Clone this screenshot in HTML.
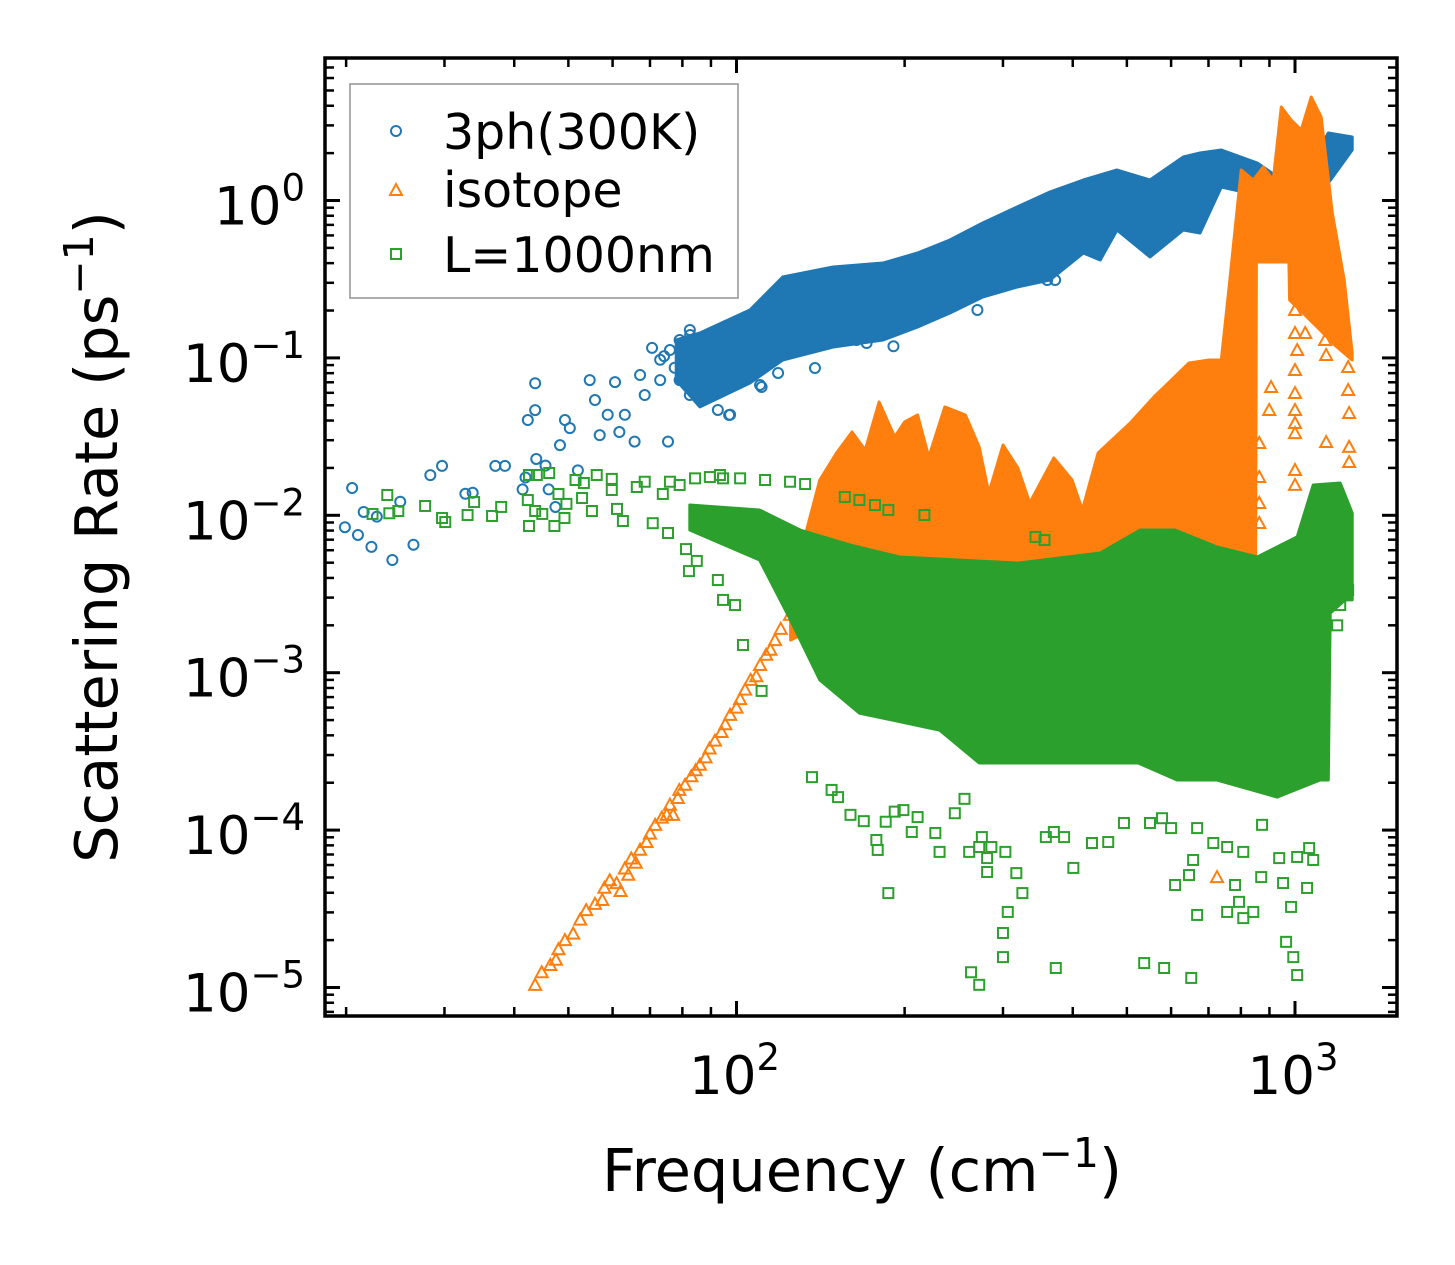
<!DOCTYPE html>
<html><head><meta charset="utf-8"><style>
html,body{margin:0;padding:0;background:#fff;}
svg{display:block;font-family:"DejaVu Sans","Liberation Sans",sans-serif;}
</style></head><body>
<svg id="chart" width="1455" height="1265" viewBox="0 0 1455 1265" xmlns="http://www.w3.org/2000/svg">
<rect width="1455" height="1265" fill="#fff"/>
<g id="plot"></g>
<g id="axes"></g>
<text transform="translate(117,537) rotate(-90)" text-anchor="middle" font-size="59">Scattering Rate (ps<tspan font-size="41" dy="-24">−1</tspan><tspan dy="24">)</tspan></text>
<text x="862" y="1191" text-anchor="middle" font-size="59">Frequency (cm<tspan font-size="41" dy="-24">−1</tspan><tspan dy="24">)</tspan></text>
<g>
<rect x="350" y="84" width="388" height="214" fill="#fff" fill-opacity="0.8" stroke="#999" stroke-width="1.6"/>
<circle cx="396" cy="131" r="5" fill="none" stroke="#1f77b4" stroke-width="2"/>
<text x="443" y="149" font-size="49">3ph(300K)</text>
<polygon points="396,184 402,195 390,195" fill="none" stroke="#ff7f0e" stroke-width="2"/>
<text x="443" y="207" font-size="49">isotope</text>
<rect x="391" y="249" width="10" height="10" fill="none" stroke="#2ca02c" stroke-width="2"/>
<text x="443" y="272" font-size="49">L=1000nm</text>
</g>
</svg>
<script>
// ---- 3ph(300K) ----
const bandF=[78,86.0,105.7,121,149,183,211,241,276,318,364,418,448,480,550,631,676,738,856,1005,1147,1266];
const bandHi=[0.1299,0.144,0.2015,0.3266,0.378,0.4008,0.464,0.561,0.7196,0.909,1.132,1.35,1.452,1.562,1.35,1.89,2.003,2.093,1.731,1.166,2.684,2.532];
const bandLo=[0.0723,0.0488,0.0693,0.097,0.1173,0.1299,0.1571,0.1929,0.2437,0.2822,0.3125,0.464,0.4188,0.6495,0.4376,0.6495,0.6216,1.218,1.084,1.007,1.292,2.093];
const bluF=[19.9,20.5,21.0,21.5,22.2,22.7,24.2,25.0,26.4,28.3,29.7,32.7,33.7,37.0,38.5,41.4,41.9,42.3,43.6,43.6,43.8,45.5,46.1,47.4,48.3,49.3,50.3,52.0,54.6,55.8,56.9,58.8,60.6,61.7,63.1,65.7,67.2,68.5,70.6,73.0,74.2,75.4,77.5,80.9,82.6,84.3,86.0,87.8,89.5,93.4,97.4,101.4,105.7,110.2,112.5,97.0,92.6,110.9,118.7,138.2,164,171,191,270,360,372,73.0,76.0,79.1,82.5,79.1,82.5];
const bluR=[0.0084,0.0149,0.0075,0.0105,0.0063,0.0098,0.0052,0.0122,0.0065,0.018,0.0206,0.0137,0.0139,0.0206,0.0206,0.0146,0.0174,0.0403,0.0466,0.069,0.0228,0.0207,0.0146,0.0113,0.0279,0.0403,0.0358,0.0193,0.0723,0.054,0.0323,0.0435,0.0702,0.0338,0.0435,0.0294,0.0778,0.0581,0.1157,0.0723,0.1026,0.0294,0.0866,0.090,0.1398,0.1122,0.0626,0.0778,0.1185,0.127,0.0435,0.0723,0.1122,0.0673,0.0973,0.0434,0.0467,0.0653,0.0802,0.0862,0.1299,0.1243,0.1185,0.2015,0.3125,0.3125,0.0973,0.1122,0.1299,0.1504,0.0723,0.0581];
// ---- isotope ----
const isoTopF=[125,132,141,151,161,170,180,192,200,211,221,236,257,272,283,300,319,335,370,399,416,444,507,559,646,702,738,762,801,842,877,914,945,984,1026,1069,1114,1166,1225,1266];
const isoTopR=[0.0023,0.0069,0.01676,0.02487,0.03381,0.02599,0.05246,0.03144,0.03916,0.04337,0.02347,0.0488,0.04337,0.02716,0.01386,0.02797,0.01998,0.01197,0.02312,0.01676,0.0108,0.02487,0.03858,0.05644,0.0928,0.097,0.097,0.2822,1.562,1.35,1.632,1.35,3.927,3.247,2.805,4.545,3.392,0.8329,0.3125,0.1074];
const isoBotF=[125,147,196,296,448,850,853,975,978,1021,1109,1180,1266];
const isoBotR=[0.00161,0.00216,0.00483,0.00449,0.00418,0.00418,0.4067,0.4067,0.2333,0.2015,0.1504,0.12,0.097];
const isoF=[43.6,46.4,49.3,52.5,55.8,59.3,63.1,67.2,71.5,76.0,80.9,86.0,91.5,97.4,103.6,110.2,117.2,124.7,132.7,44.8,47.5,48.0,51.0,53.8,57.5,58.0,61.0,64.8,66.0,69.0,70.0,73.5,75.0,78.5,79.0,83.0,84.5,88.0,89.5,94.0,95.5,100.0,101.5,106.0,108.5,113.0,115.0,120.0,127.0,130.0,64.0,62.0,77.0,
1000,1000,1009,1000,1000,1000,1000,1000,1000,1000,1043,1137,1132,1137,1245,1245,1250,1137,1250,1250,863,863,863,863,899,906,788,744,725,747,732,725];
const isoR=[1.04e-5,1.39e-5,2.0e-5,2.7e-5,3.4e-5,4.8e-5,5.7e-5,7.5e-5,1.08e-4,1.45e-4,1.94e-4,2.6e-4,3.7e-4,5.4e-4,7.8e-4,1.12e-3,1.61e-3,2.33e-3,3.36e-3,1.25e-5,1.5e-5,1.75e-5,2.2e-5,3.1e-5,3.6e-5,4.3e-5,4.6e-5,6.6e-5,6.2e-5,8.4e-5,9.5e-5,1.2e-4,1.25e-4,1.6e-4,1.8e-4,2.2e-4,2.4e-4,2.9e-4,3.3e-4,4.2e-4,4.7e-4,6.0e-4,6.8e-4,9.0e-4,9.5e-4,1.3e-3,1.4e-3,1.9e-3,2.7e-3,2.9e-3,5.2e-5,4.1e-5,1.25e-4,
0.2015,0.144,0.1122,0.0838,0.0598,0.0467,0.0386,0.0333,0.0194,0.0156,0.144,0.1929,0.1299,0.1043,0.0875,0.0625,0.0447,0.0292,0.0272,0.0218,0.0288,0.0175,0.01197,0.00893,0.0467,0.0653,0.0235,0.0151,0.0108,0.00893,0.00696,5.03e-5];
// ---- L=1000nm ----
const grTopF=[82.5,110,130,160,196,319,448,528,610,725,856,1009,1078,1205,1266,1266];
const grTopR=[0.01162,0.0108,0.00807,0.00647,0.00543,0.00497,0.00576,0.00807,0.00807,0.00629,0.00543,0.00729,0.01558,0.01604,0.01034,0.0029];
const grBotF=[82.5,110,125,141,166,231,272,377,524,615,725,929,1109,1147,1156,1230,1266];
const grBotR=[0.00807,0.0052,0.00216,0.000899,0.000554,0.000432,0.000267,0.000267,0.000267,0.000208,0.000208,0.000162,0.000208,0.000208,0.00239,0.0029,0.0029];
const grF=[136.5,148,152,160,169,178,179,185,187,192,199,211,206,227,231,246,256,261,272,275,281,281,286,303,317,325,306,300,300,263,272,358,370,386,401,373,433,463,494,550,578,600,610,646,668,537,583,652,657,714,756,808,781,794,756,808,842,870,937,952,984,964,993,1009,1009,1051,1078,1060,668,873,
22.3,23.7,23.9,24.8,27.7,29.7,30.1,33.0,33.9,36.5,37.9,42.5,42.5,43.9,46.2,42.3,43.6,44.9,47.2,48.0,49.6,49.2,51.5,53.3,52.9,55.1,56.2,59.8,59.8,61.1,62.6,66.3,68.5,70.8,73.8,75.4,76.0,79.1,81.2,82.2,84.9,84.3,89.6,94.6,92.6,94.6,99.4,102.7,110.9,
93.4,101.5,112.5,124.7,132.7,156.3,166,177,187,217,343,356,1240,1240,1240,1245,1205,1190];
const grR=[2.17e-4,1.80e-4,1.62e-4,1.25e-4,1.14e-4,8.65e-5,7.48e-5,1.13e-4,3.98e-5,1.31e-4,1.34e-4,1.21e-4,9.73e-5,9.59e-5,7.27e-5,1.28e-4,1.58e-4,7.27e-5,7.81e-5,9.03e-5,6.64e-5,5.42e-5,7.81e-5,7.27e-5,5.33e-5,3.98e-5,3.02e-5,2.22e-5,1.56e-5,1.25e-5,1.04e-5,9.03e-5,9.73e-5,9.03e-5,5.75e-5,1.33e-5,8.28e-5,8.4e-5,1.11e-4,1.11e-4,1.19e-4,1.03e-4,4.48e-5,5.18e-5,2.89e-5,1.43e-5,1.33e-5,1.15e-5,6.46e-5,8.28e-5,7.81e-5,7.27e-5,4.48e-5,3.5e-5,3.02e-5,2.76e-5,3.02e-5,5.03e-5,6.64e-5,4.61e-5,3.25e-5,1.95e-5,1.56e-5,1.2e-5,6.75e-5,4.29e-5,6.46e-5,7.69e-5,1.03e-4,1.08e-4,
0.0102,0.01346,0.0103,0.01065,0.01146,0.00961,0.00906,0.01004,0.01214,0.0099,0.0113,0.00855,0.01803,0.01803,0.01857,0.0125,0.01065,0.0102,0.00855,0.01366,0.01182,0.00961,0.01676,0.01604,0.01288,0.01065,0.01803,0.01703,0.01448,0.01098,0.0092,0.01513,0.01634,0.00891,0.01366,0.00772,0.01634,0.01558,0.0061,0.00442,0.00513,0.01717,0.0175,0.01717,0.00388,0.0029,0.00269,0.0015,0.000766,
0.01803,0.01717,0.01676,0.01634,0.0158,0.01308,0.0125,0.01162,0.0108,0.01004,0.00729,0.00696,0.00647,0.0052,0.00418,0.00335,0.00269,0.002];
// ---- axis ticks ----
const xMajor=[100,1000];
const xMajorLabels=["2","3"];
const yMajor=[1,0.1,0.01,0.001,0.0001,0.00001];
const yMajorLabels=["0","−1","−2","−3","−4","−5"];

const NS="http://www.w3.org/2000/svg";
const L=325,R=1397,T=58,B=1016;
function X(f){return 736.5+558.5*(Math.log10(f)-2);}
function Y(r){return 200.5-157.4*Math.log10(r);}
const plot=document.getElementById('plot');
const axes=document.getElementById('axes');
function mk(tag,attrs,parent){const e=document.createElementNS(NS,tag);for(const k in attrs)e.setAttribute(k,attrs[k]);parent.appendChild(e);return e;}

const defs=mk('defs',{},plot);
const cp=mk('clipPath',{id:'clip'},defs);
mk('rect',{x:L,y:T,width:R-L,height:B-T},cp);
const g=mk('g',{'clip-path':'url(#clip)'},plot);

function band(F1,R1,F2,R2,color,name){
  let pts=[];
  for(let i=0;i<F1.length;i++)pts.push(X(F1[i]).toFixed(1)+','+Y(R1[i]).toFixed(1));
  for(let i=F2.length-1;i>=0;i--)pts.push(X(F2[i]).toFixed(1)+','+Y(R2[i]).toFixed(1));
  const p=mk('polygon',{points:pts.join(' '),fill:color,stroke:color,'stroke-width':3,'stroke-linejoin':'round'},g);
  
  
}
const gb=mk('g',{},g);


band(bandF,bandHi,bandF,bandLo,'#1f77b4','band-3ph');
for(let i=0;i<bluF.length;i++){
  const c=mk('circle',{cx:X(bluF[i]),cy:Y(bluR[i]),r:5,fill:'none',stroke:'#1f77b4','stroke-width':2},gb);
  
  
}
band(isoTopF,isoTopR,isoBotF,isoBotR,'#ff7f0e','band-isotope');
for(let i=0;i<isoF.length;i++){
  const x=X(isoF[i]),y=Y(isoR[i]);
  const t=mk('polygon',{points:`${x},${y-6} ${x+6},${y+5} ${x-6},${y+5}`,fill:'none',stroke:'#ff7f0e','stroke-width':2},g);
  
  
}
band(grTopF,grTopR,grBotF,grBotR,'#2ca02c','band-l1000');
for(let i=0;i<grF.length;i++){
  const s=mk('rect',{x:X(grF[i])-5,y:Y(grR[i])-5,width:10,height:10,fill:'none',stroke:'#2ca02c','stroke-width':2},g);
  
  
}

const fr=mk('rect',{x:L,y:T,width:R-L,height:B-T,fill:'none',stroke:'#000','stroke-width':3.5},axes);


function tick(x1,y1,x2,y2,w){const t=mk('line',{x1,y1,x2,y2,stroke:'#000','stroke-width':w},axes);
  
  }
for(let d=1;d<=3;d++){for(let m=1;m<=9;m++){const f=m*Math.pow(10,d);const x=X(f);if(x<L+2||x>R-2)continue;
  const len=m===1?15:9,w=m===1?3:2.5;tick(x,B,x,B-len,w);tick(x,T,x,T+len,w);}}
for(let d=-6;d<=0;d++){for(let m=1;m<=9;m++){const r=m*Math.pow(10,d);const y=Y(r);if(y<T+2||y>B-2)continue;
  const len=m===1?15:9,w=m===1?3:2.5;tick(L,y,L+len,y,w);tick(R,y,R-len,y,w);}}
xMajor.forEach((f,i)=>{
  const t=mk('text',{x:X(f)-2,y:1094,'text-anchor':'middle','font-size':53},axes);
  
  
  t.appendChild(document.createTextNode('10'));
  const s=mk('tspan',{'font-size':37,dy:-24},t);s.textContent=xMajorLabels[i];
});
yMajor.forEach((r,i)=>{
  const t=mk('text',{x:305,y:Y(r)+24,'text-anchor':'end','font-size':53},axes);
  
  
  t.appendChild(document.createTextNode('10'));
  const s=mk('tspan',{'font-size':37,dy:-24},t);s.textContent=yMajorLabels[i];
});
</script>
</body></html>
